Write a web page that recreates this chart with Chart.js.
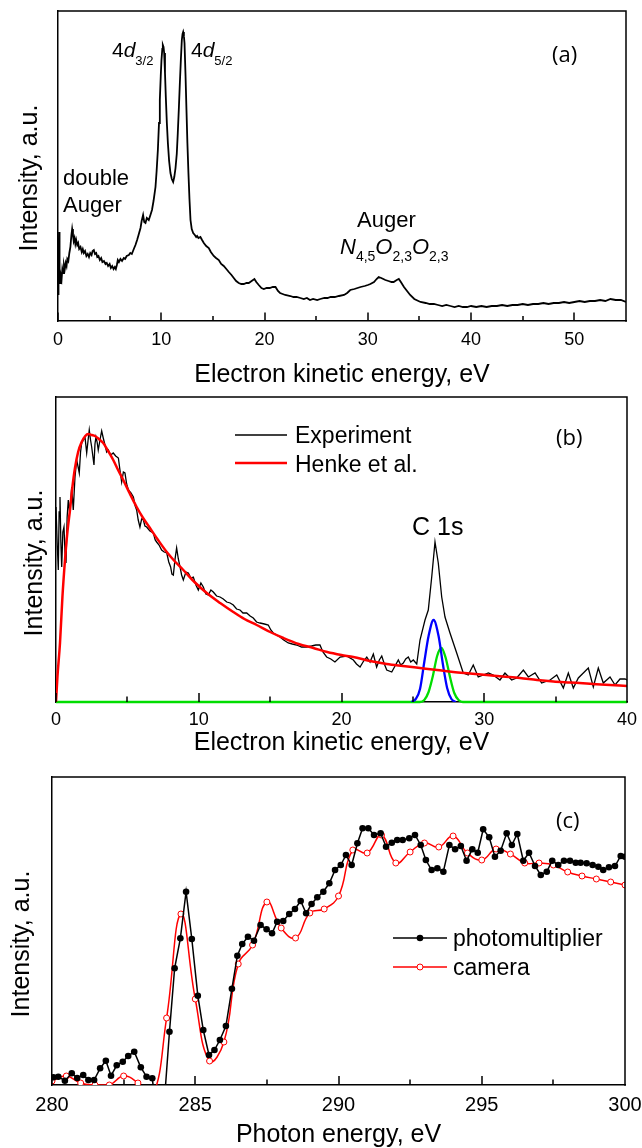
<!DOCTYPE html>
<html><head><meta charset="utf-8">
<script src="https://cdn.jsdelivr.net/npm/chart.js@4"></script>
<style>
html,body{margin:0;padding:0;background:#fff;}
body{width:642px;height:1148px;position:relative;overflow:hidden;}
canvas{position:absolute;left:0;}
</style></head><body>
<canvas id="ca" width="642" height="390" style="top:0px"></canvas>
<canvas id="cb" width="642" height="370" style="top:390px"></canvas>
<canvas id="cc" width="642" height="388" style="top:760px"></canvas>
<script>
// ---------- Panel (a) ----------
const aTicks = [0,10,20,30,40,50];
const aMinor = [5,15,25,35,45];
const aE = [
0.00,0.05,0.10,0.15,0.20,0.27,0.35,0.42,0.50,0.58,
0.66,0.75,0.83,0.90,1.00,1.10,1.20,1.30,1.37,1.45,
1.52,1.60,1.68,1.76,1.86,1.95,2.05,2.18,2.30,2.40,
2.50,2.62,2.75,2.88,3.00,3.12,3.25,3.35,3.47,3.58,
3.70,3.80,3.92,4.05,4.18,4.30,4.45,4.60,4.72,4.85,
5.00,5.12,5.25,5.38,5.50,5.60,5.70,5.79,5.90,6.05,
6.20,6.37,6.50,6.65,6.86,7.00,7.15,7.34,7.50,7.66,
7.80,7.99,8.10,8.24,8.35,8.47,8.60,8.79,8.95,9.10,
9.25,9.44,9.55,9.67,9.78,9.86,9.95,10.02,10.10,10.15,
10.22,10.28,10.36,10.44,10.54,10.64,10.76,10.89,11.02,11.15,
11.26,11.38,11.50,11.60,11.70,11.80,11.90,11.99,12.06,12.12,
12.19,12.25,12.35,12.44,12.53,12.63,12.73,12.83,12.95,13.09,
13.25,13.38,13.47,13.60,13.79,13.95,14.12,14.35,14.60,14.80,
15.08,15.30,15.57,15.80,16.05,16.30,16.54,16.80,17.02,17.25,
17.50,17.75,17.99,18.25,18.47,18.75,19.02,19.20,19.44,19.70,
19.93,20.20,20.50,20.80,21.06,21.30,21.50,21.75,22.00,22.50,
22.80,23.10,23.47,23.80,24.10,24.40,24.70,25.10,25.40,25.80,
26.10,26.40,26.80,27.20,27.70,28.00,28.30,28.70,29.00,29.30,
29.70,30.00,30.25,30.60,30.85,31.05,31.30,31.70,32.00,32.30,
32.50,32.80,33.00,33.20,33.50,33.80,34.10,34.50,35.10,35.60,
36.00,36.40,36.80,37.20,37.60,38.00,38.40,38.80,39.20,39.60,
40.00,40.50,41.00,41.50,42.00,42.50,43.00,43.50,44.00,44.50,
45.00,45.50,46.00,46.50,47.00,47.50,48.00,48.50,49.00,49.50,
50.00,50.50,51.00,51.50,52.00,52.50,53.00,53.50,54.00,54.50,
55.00];
const aI = [
27,60,89,50,38,46,42,52,48,56,
52,58,55,62,60,68,74,86,92,86,
80,83,77,81,76,78,72,74,69,72,
68,70,65,67,64,68,66,70,71,67,
68,64,65,61,63,59,60,57,58,55,
57,53,55,52,54,52,56,61,59,62,
60,63,62,65,66,68,67,72,76,81,
86,93,100,106,99,98,103,101,106,111,
120,134,150,171,198,221,245,261,272,276,
274,268,248,224,198,178,160,148,142,139,
144,153,167,188,212,238,262,281,287,289,
285,278,245,211,178,148,122,101,92,88,
86,84,85,83,84,81,78,75,73,69,
65,63,61,57,55,52,49,46,43,40,
38,37,37,38,38,40,42,39,36,33,
32,33,33,34,34,30,28,27,26,25,
24,24,23,22,23,21,22,21,22,23,
23,24,24,25,26,28,31,32,33,34,
35,36,37,39,42,44,43,41,40,39,
39,41,42,39,34,30,26,22,19,18,
17,17,16,15,16,15,14,15,14,14,
15,14,15,14,15,15,16,15,16,16,
17,16,17,17,18,17,18,18,19,18,
19,20,19,20,20,21,20,22,21,21,
19];

// ---------- Panel (b) ----------
const bTicks = [0,10,20,30,40];
const bMinor = [5,15,25,35];
const bE = [
0.00,0.08,0.16,0.22,0.28,0.34,0.40,0.48,0.56,0.63,
0.70,0.78,0.86,0.95,1.05,1.10,1.21,1.33,1.45,1.55,
1.63,1.72,1.80,1.92,2.03,2.15,2.25,2.33,2.42,2.50,
2.58,2.66,2.73,2.80,2.88,2.96,3.08,3.20,3.31,3.43,
3.55,3.66,3.83,4.01,4.18,4.37,4.48,4.60,4.72,4.83,
4.95,5.07,5.25,5.42,5.55,5.65,5.76,5.88,6.00,6.12,
6.23,6.35,6.58,6.82,6.95,7.05,7.22,7.40,7.58,7.76,
7.90,8.03,8.12,8.22,8.33,8.45,8.57,8.69,8.80,8.92,
9.10,9.27,9.45,9.62,9.80,9.97,10.15,10.32,10.50,10.67,
10.85,11.02,11.25,11.49,11.72,11.96,12.20,12.42,12.65,12.89,
13.10,13.36,13.60,13.82,14.05,14.29,14.60,14.87,15.05,15.22,
15.45,15.69,15.95,16.27,16.55,16.86,17.20,17.56,17.90,18.20,
18.49,18.70,18.96,19.25,19.54,19.90,20.36,20.83,21.05,21.30,
21.55,21.77,22.00,22.23,22.46,22.65,22.82,23.00,23.17,23.52,
23.75,23.98,24.15,24.33,24.50,24.68,24.85,25.03,25.27,25.50,
25.85,26.08,26.32,26.55,26.78,27.02,27.25,27.60,28.07,28.53,
28.88,29.23,29.58,29.93,30.29,30.63,31.10,31.45,31.92,32.27,
32.74,33.09,33.56,34.02,34.61,35.08,35.54,35.89,36.24,36.59,
36.94,37.29,37.64,37.99,38.34,38.81,39.16,39.51,39.86,40.00];
const bI = [
195,160,132,190,205,160,135,170,175,150,
139,185,202,190,205,215,192,225,242,235,
229,250,259,262,265,249,262,272,262,255,
246,237,258,265,260,252,262,271,264,257,
250,252,247,249,246,244,232,220,230,229,
218,212,209,205,196,192,182,175,183,182,
176,175,171,169,162,160,157,152,150,149,
140,135,128,127,142,154,143,135,127,122,
130,129,124,125,117,112,119,115,108,107,
112,110,106,105,103,100,99,97,93,92,
89,89,86,84,80,79,78,77,72,69,
67,65,62,59,58,57,55,55,56,57,
57,50,45,43,40,45,46,42,38,35,
41,45,40,48,35,42,46,38,32,30,
36,42,37,39,43,45,40,42,38,62,
82,92,125,160,139,105,85,69,49,29,
27,37,25,27,29,27,22,29,22,24,
32,25,29,19,22,27,14,29,14,24,
29,34,15,34,19,25,17,23,23,22];
const bHenkeE = [0.00,0.10,0.28,0.45,0.63,0.80,0.98,1.15,1.33,1.55,
1.80,2.05,2.26,2.50,2.73,3.00,3.31,3.65,4.01,4.35,
4.71,5.15,5.65,6.10,6.58,7.15,7.76,8.30,8.92,9.70,
10.56,11.50,12.42,13.20,14.06,15.00,15.93,17.00,18.03,19.00,
20.00,20.83,22.00,23.17,24.30,25.50,26.70,27.83,29.00,30.17,
31.30,32.50,33.70,34.84,36.00,37.17,38.50,40.00];
const bHenkeI = [0,25,59,105,142,170,192,215,234,250,
260,266,268,267,266,263,259,251,242,232,
222,209,195,184,174,162,150,141,132,120,
109,99,90,83,77,70,64,58,54,50,
47,45,41,38,36,34,32,30,28.5,27,
25.5,24,22,20.5,19.5,18.5,17.3,16];
const bBlueE = [24.9,25.2,25.5,25.8,26.1,26.45,26.8,27.1,27.4,27.7,28.0];
const bBlueI = [0,3,13,40,66,82,66,38,14,3,0];
const bGreenE = [0,25.5,25.8,26.1,26.4,26.7,27.0,27.3,27.6,27.9,28.2,28.5,40];
const bGreenI = [0,0,2,10,26,46,54,44,25,9,2,0,0];

// ---------- Panel (c) ----------
const cTicks = [280,285,290,295,300];
const cMinor = [282.5,287.5,292.5,297.5];
const cPmE = [
280.05,280.22,280.45,280.69,280.88,281.09,281.27,281.47,281.68,281.88,
282.06,282.26,282.47,282.66,282.87,283.10,283.30,283.50,283.70,283.90,
284.10,284.28,284.48,284.68,284.88,285.09,285.28,285.48,285.67,285.86,
286.07,286.28,286.47,286.64,286.84,287.05,287.28,287.49,287.68,287.86,
288.07,288.28,288.48,288.68,288.87,289.06,289.26,289.47,289.68,289.88,
290.08,290.26,290.46,290.66,290.84,291.04,291.24,291.47,291.66,291.86,
292.05,292.24,292.47,292.67,292.87,293.05,293.25,293.45,293.66,293.87,
294.07,294.27,294.47,294.67,294.86,295.05,295.26,295.46,295.66,295.87,
296.05,296.24,296.45,296.65,296.86,297.06,297.27,297.46,297.67,297.87,
298.08,298.28,298.45,298.66,298.87,299.07,299.24,299.44,299.65,299.85,
300.0];
const cPmI = [
7.7,8.3,4.3,11.7,7,10,5,5,16.7,24.3,
9.3,19.7,23.3,29,33.3,17.7,8.3,6.7,-40,-25,
53.3,116.7,146.7,193.3,146,89.3,55,30,35,45,
59,96.3,129.3,141,148.3,144.3,160,155.7,151.7,163.3,
164,171,176,184,171.7,181,187.7,193.3,201.7,215,
220,230,220,241.7,256.7,256.7,250,251.7,238.3,242.3,
245,245,246.7,250,240,225,215,216.7,213.3,240,
235.7,239,224.3,235.7,232.3,255.7,247.7,228.3,234.3,251.7,
240,251,224.3,232.3,219,210,213.3,224.3,220,224.3,
224.3,222.3,222.3,221.7,220,218.3,215,217.7,219,229,
228.3];
const cCamE = [280.0,280.5,281.0,281.5,282.0,282.5,283.0,283.5,284.0,284.5,
285.0,285.5,286.0,286.5,287.0,287.5,288.0,288.5,289.0,289.5,
290.0,290.5,291.0,291.5,292.0,292.5,293.0,293.5,294.0,294.5,
295.0,295.5,296.0,296.5,297.0,297.5,298.0,298.5,299.0,299.5,300.0];
const cCamI = [4,9,2,0,0,9,2,-12,67,171,
86,24,43,121,140,183,157,147,172,176,
189,235,232,250,222,233,242,238,249,232,
225,236,231,222,222,220,213,209,206,203,200];

// ---------- common ----------
const FONT = '"Liberation Sans", Arial, Helvetica, sans-serif';
const LFONT = '"Open Sans", "Liberation Sans", sans-serif';
Chart.defaults.font.family = FONT;
Chart.defaults.color = '#000';

const pts = (xs, ys) => xs.map((x, i) => ({x: x, y: ys[i]}));

function rich(ctx, x, y, parts, align) {
  let w = 0;
  parts.forEach(p => { ctx.font = (p[2] ? 'italic ' : '') + p[1] + 'px ' + (p[4] || FONT); w += ctx.measureText(p[0]).width; });
  let cx = align === 'center' ? x - w / 2 : x;
  ctx.textAlign = 'left'; ctx.textBaseline = 'alphabetic'; ctx.fillStyle = '#000';
  parts.forEach(p => {
    ctx.font = (p[2] ? 'italic ' : '') + p[1] + 'px ' + (p[4] || FONT);
    ctx.fillText(p[0], cx, y + (p[3] || 0));
    cx += ctx.measureText(p[0]).width;
  });
}

function decor(cfg) {
  return {
    id: 'decor',
    afterDraw(chart) {
      const ctx = chart.ctx, a = chart.chartArea, xs = chart.scales.x;
      ctx.save();
      ctx.strokeStyle = '#000'; ctx.lineWidth = 1.5;
      ctx.beginPath();
      ctx.moveTo(a.left, a.top); ctx.lineTo(a.right, a.top); ctx.lineTo(a.right, a.bottom + 0.75);
      cfg.major.forEach(v => { const p = Math.round(xs.getPixelForValue(v)); ctx.moveTo(p, a.bottom); ctx.lineTo(p, a.bottom - cfg.majorLen); });
      cfg.minor.forEach(v => { const p = Math.round(xs.getPixelForValue(v)); ctx.moveTo(p, a.bottom); ctx.lineTo(p, a.bottom - cfg.minorLen); });
      ctx.stroke();
      // y-axis title
      ctx.save();
      ctx.translate(cfg.yTitle[1], cfg.yTitle[2]);
      ctx.rotate(-Math.PI / 2);
      ctx.font = '25px ' + FONT; ctx.textAlign = 'center'; ctx.textBaseline = 'middle'; ctx.fillStyle = '#000';
      ctx.fillText(cfg.yTitle[0], 0, 0);
      ctx.restore();
      cfg.texts.forEach(t => rich(ctx, t.x, t.y, t.parts, t.align));
      if (cfg.legend) cfg.legend(ctx);
      ctx.restore();
    }
  };
}

function xScale(min, max, ticks, font, pad, title, tpad, h) {
  return {
    type: 'linear', min: min, max: max,
    afterBuildTicks: s => { s.ticks = ticks.map(v => ({value: v})); },
    ticks: {font: {size: font}, padding: pad, color: '#000', maxRotation: 0, autoSkip: false, includeBounds: false},
    grid: {display: false, drawTicks: false},
    border: {display: true, color: '#000', width: 1.5},
    title: {display: true, text: title, font: {size: 25}, color: '#000', padding: {top: 0, bottom: tpad}},
    afterFit: s => { s.height = h; s.paddingLeft = 0; s.paddingRight = 0; }
  };
}
function yScale(max, w) {
  return {
    type: 'linear', min: 0, max: max,
    ticks: {display: false},
    grid: {display: false, drawTicks: false},
    border: {display: true, color: '#000', width: 1.5},
    afterFit: s => { s.width = w; s.paddingTop = 0; s.paddingBottom = 0; }
  };
}
const baseOpts = {responsive: false, animation: false, events: [],
  plugins: {legend: {display: false}, tooltip: {enabled: false}}};

// ---------- Chart (a) ----------
new Chart(document.getElementById('ca'), {
  type: 'line',
  data: {datasets: [{data: pts(aE, aI), borderColor: '#000', borderWidth: 1.8, pointRadius: 0, tension: 0}]},
  options: Object.assign({}, baseOpts, {
    layout: {padding: {left: 0, top: 11, right: 16, bottom: 0}},
    scales: {x: xScale(0, 55, aTicks, 18, 8, 'Electron kinetic energy, eV', 0, 69), y: yScale(310, 58)}
  }),
  plugins: [decor({
    major: aTicks, minor: aMinor, majorLen: 8.5, minorLen: 5,
    yTitle: ['Intensity, a.u.', 30, 178],
    texts: [
      {x: 552, y: 62, parts: [['(a)', 22, false, 0, LFONT]]},
      {x: 112, y: 57, parts: [['4', 21], ['d', 21, true], ['3/2', 13, false, 8]]},
      {x: 191, y: 57, parts: [['4', 21], ['d', 21, true], ['5/2', 13, false, 8]]},
      {x: 63, y: 185, parts: [['double', 22]]},
      {x: 63, y: 212, parts: [['Auger', 22]]},
      {x: 357, y: 227, parts: [['Auger', 22]]},
      {x: 340, y: 254, parts: [['N', 22, true], ['4,5', 14, false, 7], ['O', 22, true], ['2,3', 14, false, 7], ['O', 22, true], ['2,3', 14, false, 7]]}
    ]
  })]
});

// ---------- Chart (b) ----------
new Chart(document.getElementById('cb'), {
  type: 'line',
  data: {datasets: [
    {data: pts(bHenkeE, bHenkeI), borderColor: '#ff0000', borderWidth: 2.5, pointRadius: 0, cubicInterpolationMode: 'monotone'},
    {data: pts(bBlueE, bBlueI), borderColor: '#0000ff', borderWidth: 2.3, pointRadius: 0, cubicInterpolationMode: 'monotone'},
    {data: pts(bGreenE, bGreenI), borderColor: '#00dd00', borderWidth: 2.3, pointRadius: 0, cubicInterpolationMode: 'monotone', clip: {left: 0, right: 0, top: 0, bottom: 3}},
    {data: pts(bE, bI), borderColor: '#000', borderWidth: 1.3, pointRadius: 0, tension: 0}
  ]},
  options: Object.assign({}, baseOpts, {
    layout: {padding: {left: 0, top: 7, right: 15, bottom: 0}},
    scales: {x: xScale(0, 40, bTicks, 18, 7, 'Electron kinetic energy, eV', 2, 58), y: yScale(305, 56)}
  }),
  plugins: [decor({
    major: bTicks, minor: bMinor, majorLen: 9, minorLen: 5.5,
    yTitle: ['Intensity, a.u.', 35, 173],
    texts: [
      {x: 556, y: 55, parts: [['(b)', 22, false, 0, LFONT]]},
      {x: 295, y: 53, parts: [['Experiment', 23]]},
      {x: 295, y: 82, parts: [['Henke et al.', 23]]},
      {x: 412, y: 145, parts: [['C 1s', 25]]}
    ],
    legend: ctx => {
      ctx.lineWidth = 1.3; ctx.strokeStyle = '#000';
      ctx.beginPath(); ctx.moveTo(235, 45); ctx.lineTo(287, 45); ctx.stroke();
      ctx.lineWidth = 2.5; ctx.strokeStyle = '#ff0000';
      ctx.beginPath(); ctx.moveTo(235, 73); ctx.lineTo(287, 73); ctx.stroke();
    }
  })]
});

// ---------- Chart (c) ----------
new Chart(document.getElementById('cc'), {
  type: 'line',
  data: {datasets: [
    {data: pts(cPmE, cPmI), borderColor: '#000', borderWidth: 1.5, pointRadius: 3.3, pointBackgroundColor: '#000', pointBorderColor: '#000', pointBorderWidth: 0, tension: 0},
    {data: pts(cCamE, cCamI), borderColor: '#ff0000', borderWidth: 1.5, pointRadius: 3, pointBackgroundColor: '#fff', pointBorderColor: '#ff0000', pointBorderWidth: 1, tension: 0.45}
  ]},
  options: Object.assign({}, baseOpts, {
    layout: {padding: {left: 0, top: 17, right: 17, bottom: 0}},
    scales: {x: xScale(280, 300, cTicks, 20, 8, 'Photon energy, eV', -2, 63), y: yScale(308, 52)}
  }),
  plugins: [decor({
    major: cTicks, minor: cMinor, majorLen: 9, minorLen: 5.5,
    yTitle: ['Intensity, a.u.', 22, 184],
    texts: [
      {x: 556, y: 68, parts: [['(c)', 22, false, 0, LFONT]]},
      {x: 453, y: 186, parts: [['photomultiplier', 23]]},
      {x: 453, y: 215, parts: [['camera', 23]]}
    ],
    legend: ctx => {
      ctx.lineWidth = 1.5; ctx.strokeStyle = '#000';
      ctx.beginPath(); ctx.moveTo(393, 178); ctx.lineTo(447, 178); ctx.stroke();
      ctx.fillStyle = '#000'; ctx.beginPath(); ctx.arc(420, 178, 3.3, 0, Math.PI * 2); ctx.fill();
      ctx.strokeStyle = '#ff0000';
      ctx.beginPath(); ctx.moveTo(393, 207); ctx.lineTo(447, 207); ctx.stroke();
      ctx.fillStyle = '#fff'; ctx.lineWidth = 1;
      ctx.beginPath(); ctx.arc(420, 207, 3, 0, Math.PI * 2); ctx.fill(); ctx.stroke();
    }
  })]
});
</script>
</body></html>
